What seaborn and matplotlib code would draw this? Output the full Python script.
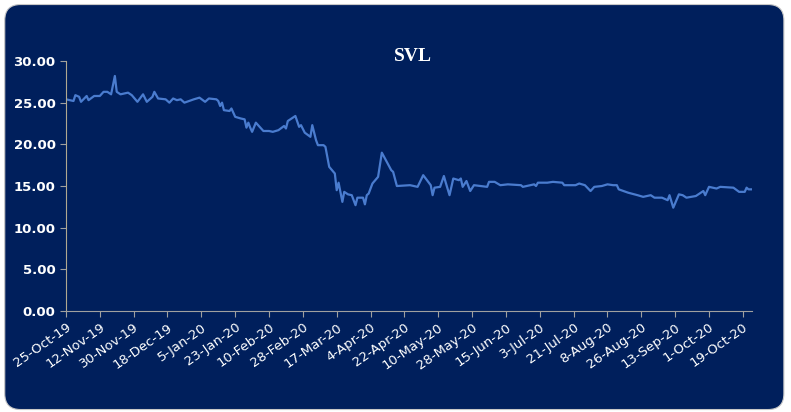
import pandas as pd
import numpy as np
import seaborn as sns
from matplotlib import pyplot as plt
from matplotlib.patches import FancyBboxPatch

# SVL price
dates = ['2019-10-25', '2019-10-29', '2019-10-30', '2019-11-01', '2019-11-02', '2019-11-05',
         '2019-11-06', '2019-11-09', '2019-11-12', '2019-11-14', '2019-11-16', '2019-11-18',
         '2019-11-20', '2019-11-21', '2019-11-23', '2019-11-27', '2019-11-29', '2019-12-02',
         '2019-12-05', '2019-12-07', '2019-12-10', '2019-12-11', '2019-12-13', '2019-12-17',
         '2019-12-19', '2019-12-21', '2019-12-23', '2019-12-25', '2019-12-27', '2020-01-01',
         '2020-01-04', '2020-01-07', '2020-01-09', '2020-01-13', '2020-01-14', '2020-01-15',
         '2020-01-16', '2020-01-17', '2020-01-20', '2020-01-21', '2020-01-23', '2020-01-26',
         '2020-01-28', '2020-01-29', '2020-01-30', '2020-01-31', '2020-02-01', '2020-02-03',
         '2020-02-07', '2020-02-10', '2020-02-12', '2020-02-15', '2020-02-18', '2020-02-19',
         '2020-02-20', '2020-02-24', '2020-02-26', '2020-02-27', '2020-02-29', '2020-03-03',
         '2020-03-04', '2020-03-06', '2020-03-07', '2020-03-10', '2020-03-11', '2020-03-13',
         '2020-03-16', '2020-03-17', '2020-03-18', '2020-03-20', '2020-03-21', '2020-03-23',
         '2020-03-25', '2020-03-27', '2020-03-28', '2020-03-31', '2020-04-01', '2020-04-02',
         '2020-04-03', '2020-04-05', '2020-04-08', '2020-04-10', '2020-04-15', '2020-04-16',
         '2020-04-18', '2020-04-25', '2020-04-29', '2020-05-02', '2020-05-04', '2020-05-06',
         '2020-05-07', '2020-05-08', '2020-05-11', '2020-05-13', '2020-05-14', '2020-05-16',
         '2020-05-18', '2020-05-21', '2020-05-22', '2020-05-23', '2020-05-25', '2020-05-27',
         '2020-05-29', '2020-06-05', '2020-06-06', '2020-06-09', '2020-06-12', '2020-06-16',
         '2020-06-23', '2020-06-24', '2020-06-30', '2020-07-01', '2020-07-02', '2020-07-07',
         '2020-07-10', '2020-07-15', '2020-07-16', '2020-07-22', '2020-07-24', '2020-07-27',
         '2020-07-30', '2020-08-01', '2020-08-05', '2020-08-08', '2020-08-11', '2020-08-13',
         '2020-08-14', '2020-08-19', '2020-08-24', '2020-08-27', '2020-08-31', '2020-09-02',
         '2020-09-06', '2020-09-09', '2020-09-10', '2020-09-12', '2020-09-15', '2020-09-17',
         '2020-09-19', '2020-09-24', '2020-09-28', '2020-09-29', '2020-10-01', '2020-10-05',
         '2020-10-07', '2020-10-14', '2020-10-17', '2020-10-20', '2020-10-21', '2020-10-22',
         '2020-10-24']
prices = [25.4, 25.2, 25.9, 25.7, 25.1, 25.8,
          25.3, 25.8, 25.8, 26.3, 26.3, 26.0,
          28.2, 26.3, 26.0, 26.2, 25.9, 25.1,
          26.0, 25.1, 25.7, 26.3, 25.5, 25.4,
          25.0, 25.5, 25.3, 25.4, 25.0, 25.4,
          25.6, 25.1, 25.5, 25.4, 25.2, 24.6,
          25.0, 24.1, 24.0, 24.3, 23.3, 23.1,
          23.0, 22.0, 22.6, 22.0, 21.5, 22.6,
          21.6, 21.6, 21.5, 21.7, 22.2, 21.9,
          22.8, 23.4, 22.1, 22.3, 21.4, 20.9,
          22.3, 20.5, 19.9, 19.9, 19.7, 17.3,
          16.5, 14.5, 15.4, 13.1, 14.3, 14.0,
          13.9, 12.7, 13.6, 13.6, 12.8, 13.9,
          14.1, 15.3, 16.1, 19.0, 16.9, 16.7,
          15.0, 15.1, 14.9, 16.3, 15.7, 15.1,
          13.9, 14.8, 14.9, 16.2, 15.4, 13.9,
          15.9, 15.7, 15.9, 14.9, 15.6, 14.4,
          15.1, 14.9, 15.5, 15.5, 15.1, 15.2,
          15.1, 14.9, 15.2, 15.0, 15.4, 15.4,
          15.5, 15.4, 15.1, 15.1, 15.3, 15.1,
          14.4, 14.9, 15.0, 15.2, 15.1, 15.1,
          14.6, 14.2, 13.9, 13.7, 13.9, 13.6,
          13.6, 13.3, 13.9, 12.4, 14.0, 13.9,
          13.6, 13.8, 14.4, 13.9, 14.9, 14.7,
          14.9, 14.8, 14.3, 14.3, 14.8, 14.6,
          14.6]
title = 'SVL'

navy = '#001F5C'
line_col = '#4A7CCF'

df = pd.DataFrame({'date': pd.to_datetime(dates), 'price': prices})

fig = plt.figure(figsize=(7.91, 4.12), dpi=100)
fig.patch.set_facecolor('white')
bg = FancyBboxPatch((0.006, 0.006), 0.985, 0.983,
                    boxstyle='round,pad=0,rounding_size=0.02',
                    transform=fig.transFigure, facecolor=navy,
                    edgecolor='#C8C8C8', linewidth=0.8, zorder=-10,
                    mutation_aspect=791 / 412)
fig.patches.append(bg)

ax = fig.add_axes([0.0834, 0.245, 0.8676, 0.607])
ax.set_zorder(5)
ax.set_facecolor(navy)
sns.lineplot(data=df, x='date', y='price', ax=ax, color=line_col, linewidth=1.6)

ax.set_ylim(0, 30)
ax.set_yticks(np.arange(0, 31, 5))
ax.set_yticklabels([f'{v:.2f}' for v in np.arange(0, 31, 5)],
                   color='white', fontweight='bold', fontsize=9.5)

ticks = pd.date_range('2019-10-25', '2020-10-19', freq='18D')
ax.set_xlim(pd.Timestamp('2019-10-25'), pd.Timestamp('2020-10-24'))
ax.set_xticks(ticks)
ax.set_xticklabels([f"{d.day}-{d.strftime('%b-%y')}" for d in ticks],
                   color='white', fontsize=9.5, rotation=35, ha='right',
                   rotation_mode='anchor')

ax.tick_params(axis='both', colors='#A0A0A0', length=4, width=0.8, labelcolor='white')
ax.tick_params(axis='x', pad=3)
for s in ['top', 'right']:
    ax.spines[s].set_visible(False)
ax.spines['left'].set_color('#B0A890')
ax.spines['bottom'].set_color('#A0A0A0')
ax.set_xlabel('')
ax.set_ylabel('')

fig.text(0.522, 0.862, title, color='white', fontsize=14, fontweight='bold',
         family='Liberation Serif', ha='center', va='center', zorder=6)

fig.savefig('out.png', dpi=100, facecolor=fig.get_facecolor())
